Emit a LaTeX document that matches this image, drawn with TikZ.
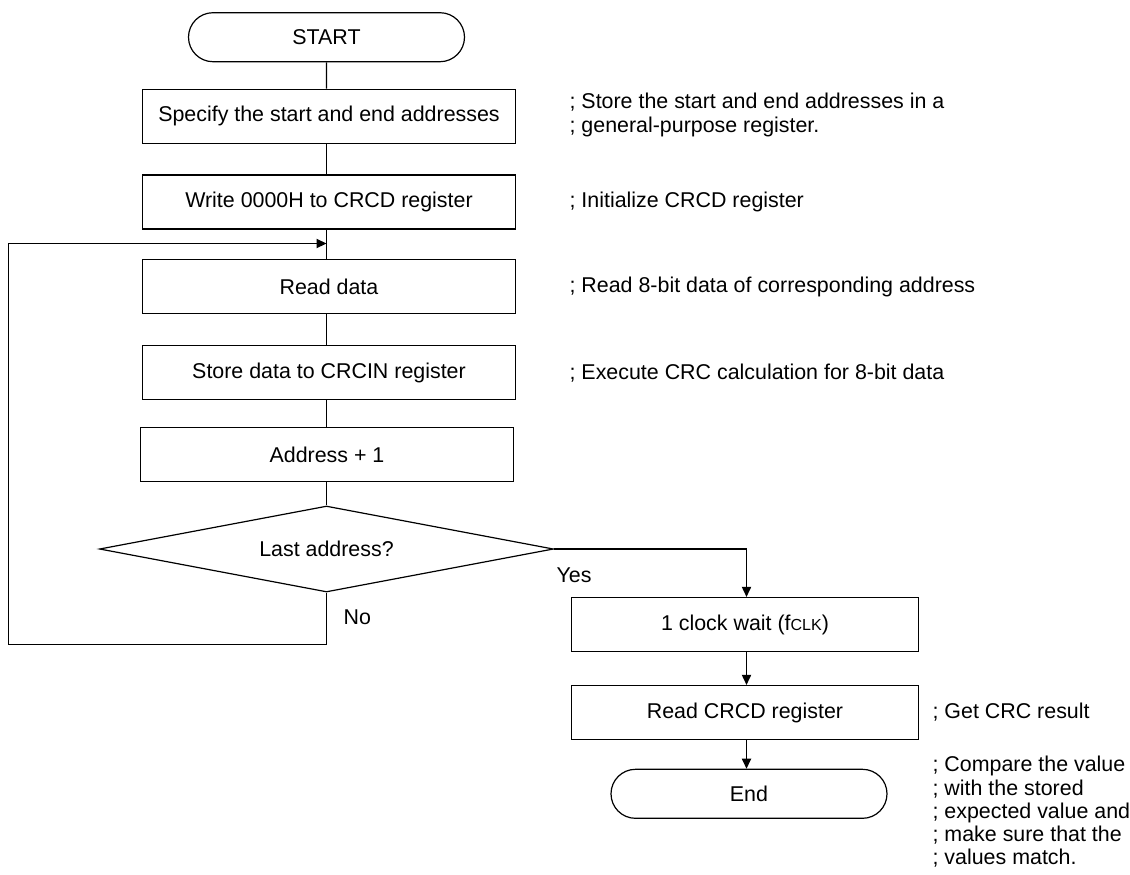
\documentclass[tikz,border=0pt]{standalone}
\usepackage{fontspec}
\setmainfont{Liberation Sans}
\usetikzlibrary{arrows.meta,shapes.geometric,shapes.misc}

\begin{document}
\begin{tikzpicture}[x=0.5pt,y=-0.5pt,>={Triangle[length=5pt,width=4.6pt]},
  line width=0.6pt,font=\fontsize{10.7}{12}\selectfont,
  procbox/.style={draw,rectangle,minimum width=186.5pt,minimum height=27pt,inner sep=0pt},
  sidebox/.style={procbox,minimum width=173.5pt},
  term/.style={draw,rounded rectangle,minimum width=138pt,minimum height=24.5pt,inner sep=0pt},
  decision/.style={draw,diamond,aspect=5,minimum width=227pt,minimum height=43pt,inner sep=0pt},
  note/.style={anchor=west,align=left,inner sep=0pt}]
  \useasboundingbox (0,0) rectangle (1130,874);
  % main column
  \node[term] (start) at (326.5,37.2) {START};
  \node[procbox] (spec) at (329,116.3) {Specify the start and end addresses};
  \node[procbox] (init) at (329,201.9) {Write 0000H to CRCD register};
  \node[procbox] (read) at (329,286.5) {Read data};
  \node[procbox] (store) at (329,372.5) {Store data to CRCIN register};
  \node[procbox] (incr) at (327,454.5) {Address + 1};
  \node[decision] (last) at (326.5,549) {Last address?};
  \coordinate (join) at (326.5,243.5);
  \coordinate (nocorner) at (8.5,644.5);
  % right column
  \node[sidebox] (wait) at (745,624.5) {1 clock wait (f{\fontsize{8}{8}\selectfont CLK})};
  \node[sidebox] (getres) at (745,712.5) {Read CRCD register};
  \node[term] (finish) at (749,793.8) {End};
  % connectors
  \draw (start) -- (start |- spec.north);
  \draw (spec.south -| start) -- (start |- init.north);
  \draw (init.south -| start) -- (start |- read.north);
  \draw (read.south -| start) -- (start |- store.north);
  \draw (store.south -| start) -- (start |- incr.north);
  \draw (incr.south -| start) -- (last);
  \draw[->] (last.south) |- (nocorner) |- (join);
  \draw[->] (last.east) -| (wait.north -| 746.5,0);
  \draw[->] (wait.south -| 746.5,0) -- (getres.north -| 746.5,0);
  \draw[->] (getres.south -| 746.5,0) -- (finish.north -| 746.5,0);
  \node[note] (yes) at (556,575) {Yes};
  \node[note] (no) at (343,617) {No};
  % comments
  \node[note] (c1) at (569,115) {; Store the start and end addresses in a\\; general-purpose register.};
  \node[note] (c2) at (569,202) {; Initialize CRCD register};
  \node[note] (c3) at (569,287) {; Read 8-bit data of corresponding address};
  \node[note] (c4) at (569,373) {; Execute CRC calculation for 8-bit data};
  \node[note] (c5) at (932,712.5) {; Get CRC result};
  \node[note,font=\fontsize{10.7}{11.6}\selectfont] (c6) at (932,812) {; Compare the value\\; with the stored\\; expected value and\\; make sure that the\\; values match.};
\end{tikzpicture}
\end{document}
